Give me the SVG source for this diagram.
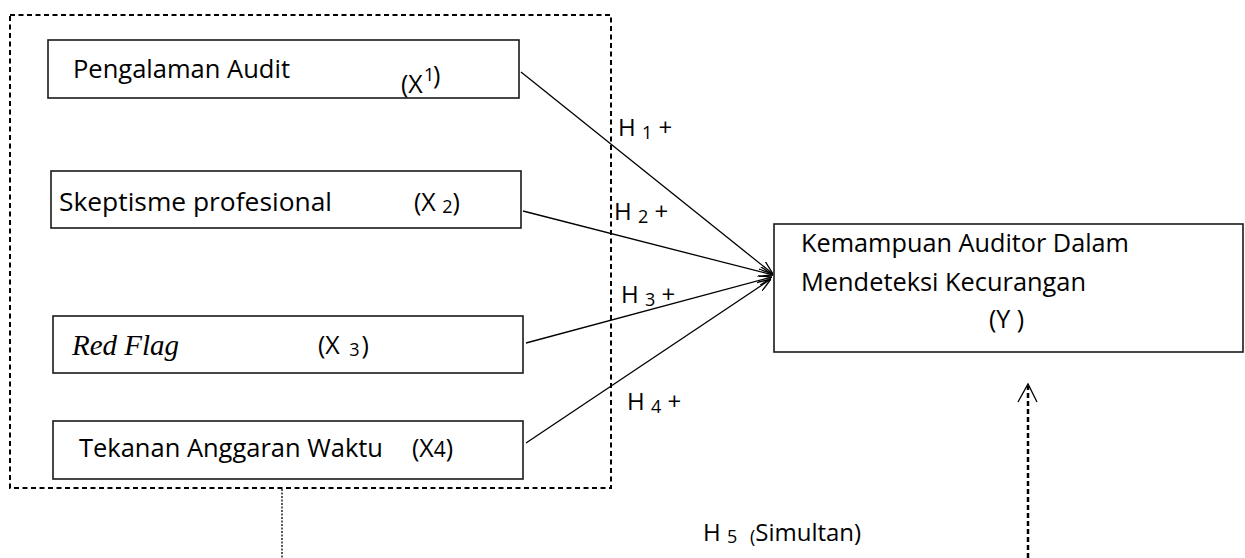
<svg xmlns="http://www.w3.org/2000/svg" width="1245" height="558" viewBox="0 0 1245 558">
<style>
.box{fill:#fff;stroke:#1a1a1a;stroke-width:1.6}
.t{font-family:"Open Sans","Liberation Sans",sans-serif;font-size:25px;fill:#000}
.s{font-size:18px}
.it{font-family:"Liberation Serif","Times New Roman",serif;font-style:italic;font-size:29px;fill:#000}
.h{font-family:"Open Sans","Liberation Sans",sans-serif;font-size:24px;fill:#000}
.c{stroke:#000;stroke-width:1.3;fill:none}
</style>
<defs>
<marker id="ah" viewBox="0 0 14 10" refX="14" refY="5" markerWidth="14" markerHeight="10" markerUnits="userSpaceOnUse" orient="auto">
<path d="M0,0 L14,5 L0,10" fill="none" stroke="#000" stroke-width="1.3"/>
</marker>
</defs>
<g id="group-x">
<rect x="10" y="15" width="601" height="473" fill="none" stroke="#000" stroke-width="2" stroke-dasharray="5 3.5"/>
</g>
<g id="x1">
<rect class="box" x="48" y="40" width="471" height="58"/>
<text class="t" x="73" y="78" textLength="217" lengthAdjust="spacingAndGlyphs">Pengalaman Audit</text>
<text class="t" x="401" y="93">(X</text>
<text class="t s" x="424" y="81">1</text>
<text class="t" x="433" y="84">)</text>
</g>
<g id="x2">
<rect class="box" x="51" y="171" width="470" height="57"/>
<text class="t" x="59" y="211" textLength="273" lengthAdjust="spacingAndGlyphs">Skeptisme profesional</text>
<text class="t" x="414" y="211">(X <tspan class="s" dy="2">2</tspan><tspan dy="-2">)</tspan></text>
</g>
<g id="x3">
<rect class="box" x="53" y="316" width="470" height="57"/>
<text class="it" x="72" y="355" textLength="107" lengthAdjust="spacingAndGlyphs">Red Flag</text>
<text class="t" x="318" y="354">(X <tspan class="s" dx="3" dy="2">3</tspan><tspan dx="2" dy="-2">)</tspan></text>
</g>
<g id="x4">
<rect class="box" x="53" y="421" width="470" height="58"/>
<text class="t" x="79" y="457" textLength="304" lengthAdjust="spacingAndGlyphs">Tekanan Anggaran Waktu</text>
<text class="t" x="412" y="457">(X<tspan font-size="21">4</tspan>)</text>
</g>
<g id="y">
<rect class="box" x="774" y="224" width="469" height="128"/>
<text class="t" x="801" y="252" textLength="328" lengthAdjust="spacingAndGlyphs">Kemampuan Auditor Dalam</text>
<text class="t" x="801" y="291" textLength="285" lengthAdjust="spacingAndGlyphs">Mendeteksi Kecurangan</text>
<text class="t" x="989" y="328">(Y )</text>
</g>
<g id="connectors">
<line class="c" x1="521" y1="72" x2="773" y2="274" marker-end="url(#ah)"/>
<line class="c" x1="523" y1="211" x2="773" y2="275" marker-end="url(#ah)"/>
<line class="c" x1="526" y1="343" x2="772" y2="277" marker-end="url(#ah)"/>
<line class="c" x1="526" y1="443" x2="771" y2="279" marker-end="url(#ah)"/>
<line x1="282" y1="489" x2="282" y2="558" stroke="#000" stroke-width="1.3" stroke-dasharray="2 1.5"/>
<line x1="1028" y1="558" x2="1028" y2="386" stroke="#000" stroke-width="2.5" stroke-dasharray="5 3"/>
<path d="M1018,402 L1028,384 L1037,402" fill="none" stroke="#000" stroke-width="1.3"/>
</g>
<g id="labels">
<text class="h" x="618" y="136">H <tspan class="s" dy="3">1</tspan><tspan dy="-3"> +</tspan></text>
<text class="h" x="614" y="220">H <tspan class="s" dy="3">2</tspan><tspan dy="-3"> +</tspan></text>
<text class="h" x="621" y="303">H <tspan class="s" dy="3">3</tspan><tspan dy="-3"> +</tspan></text>
<text class="h" x="627" y="410">H <tspan class="s" dy="3">4</tspan><tspan dy="-3"> +</tspan></text>
<text class="h" x="703" y="541">H <tspan class="s" dy="2">5</tspan><tspan class="s" dx="8"> (</tspan><tspan dy="-2">Simultan)</tspan></text>
</g>
</svg>
